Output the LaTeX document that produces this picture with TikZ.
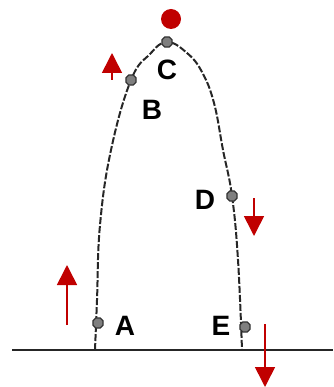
\documentclass[tikz,border=0pt]{standalone}
\usepackage{fontspec}
\setmainfont{Liberation Sans}
\usetikzlibrary{arrows.meta,shapes.geometric}
\definecolor{ballred}{HTML}{C00000}
\definecolor{dotgrey}{HTML}{7F7F7F}
\tikzset{
  pathline/.style={line width=2pt, draw=black!85, dash pattern=on 7pt off 2pt},
  ground/.style={line width=1.8pt, draw=black!85},
  dot/.style={regular polygon, regular polygon sides=8, minimum size=11pt, inner sep=0pt, fill=dotgrey, draw=black!80, line width=1.2pt},
  lbl/.style={font=\bfseries\fontsize{28}{28}\selectfont, inner sep=0pt, text=black},
  redarrow/.style={draw=ballred, line width=1.6pt, -{Triangle[width=20pt,length=20pt]}, ballred},
  ball/.style={circle, fill=ballred, minimum size=20pt, inner sep=0pt}
}
\begin{document}
\begin{tikzpicture}[x=1pt,y=-1pt]
\useasboundingbox (0,0) rectangle (333,387);
% ground
\coordinate (g1) at (12,350);
\coordinate (g2) at (333,350);
\draw[ground] (g1) -- (g2);
% trajectory
\draw[pathline] plot[smooth, tension=0.7] coordinates {(95,350) (97,300) (100,225) (111,150) (131,80) (150,54) (167,42) (187,53) (202,72) (214,103) (223,150) (232,196) (238,260) (242,350)};
% dots
\node[dot] (A) at (98,323) {};
\node[dot] (B) at (131,80) {};
\node[dot] (C) at (167,42) {};
\node[dot] (D) at (232,196) {};
\node[dot] (E) at (245,327) {};
% labels
\node[lbl] (lA) at (125,326) {A};
\node[lbl] (lB) at (152,110) {B};
\node[lbl] (lC) at (167,70) {C};
\node[lbl] (lD) at (205,200) {D};
\node[lbl] (lE) at (221,326) {E};
% ball
\node[ball] (ball) at (171,19) {};
% arrows
\coordinate (a1s) at (67,325); \coordinate (a1e) at (67,265);
\draw[redarrow] (a1s) -- (a1e);
\coordinate (a2s) at (112,80); \coordinate (a2e) at (112,53);
\draw[redarrow] (a2s) -- (a2e);
\coordinate (a3s) at (254,198); \coordinate (a3e) at (254,236);
\draw[redarrow] (a3s) -- (a3e);
\coordinate (a4s) at (265,324); \coordinate (a4e) at (265,387);
\draw[redarrow] (a4s) -- (a4e);
\end{tikzpicture}
\end{document}
